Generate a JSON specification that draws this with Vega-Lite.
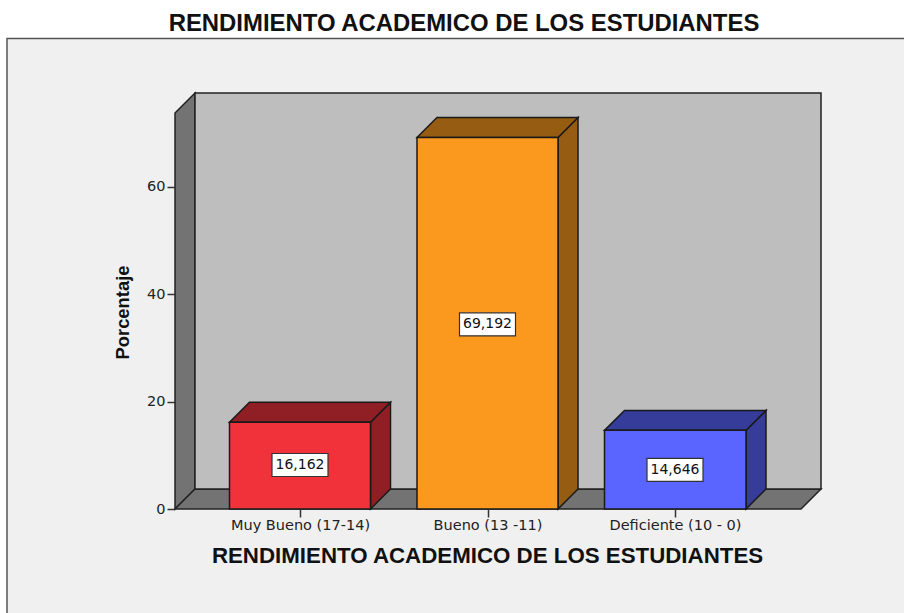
{
"$schema":"https://vega.github.io/schema/vega-lite/v6.json",
"width":646,"height":416,
"autosize":"none",
"padding":{"left":175,"top":93,"right":83,"bottom":104},
"background":"#ffffff",
"title":{"text":"RENDIMIENTO ACADEMICO DE LOS ESTUDIANTES","font":"Liberation Sans","fontSize":23.9,"fontWeight":"bold","color":"#111111","anchor":"middle","dx":-34,"offset":-10,"baseline":"middle"},
"config":{"view":{"stroke":null},"axis":{"grid":false,"domain":false,"labelFont":"DejaVu Sans","titleFont":"Liberation Sans","labelFontSize":14.5,"labelColor":"#222222","tickColor":"#333333","tickWidth":1.5,"tickSize":8}},
"datasets":{
"panel":[{"x0":-168,"x1":800,"y0":-30,"y1":87.6}],
"wall":[{"x0":20,"x1":646,"y0":3.72,"y1":77.47}],
"faces":[
{"face":"leftwall","x":0,"top":73.75,"bottom":0,"part":"wall"},
{"face":"leftwall","x":20,"top":77.47,"bottom":3.72,"part":"wall"},
{"face":"floor","x":0,"top":0,"bottom":0,"part":"wall"},
{"face":"floor","x":20,"top":3.72,"bottom":0,"part":"wall"},
{"face":"floor","x":626,"top":3.72,"bottom":0,"part":"wall"},
{"face":"floor","x":646,"top":3.72,"bottom":3.72,"part":"wall"}
],
"depth":[
{"face":"s1","x":195.5,"top":16.162,"bottom":0,"part":"red"},
{"face":"s1","x":215.5,"top":19.882,"bottom":3.72,"part":"red"},
{"face":"t1","x":54.5,"top":16.162,"bottom":16.162,"part":"red"},
{"face":"t1","x":74.5,"top":19.882,"bottom":16.162,"part":"red"},
{"face":"t1","x":195.5,"top":19.882,"bottom":16.162,"part":"red"},
{"face":"t1","x":215.5,"top":19.882,"bottom":19.882,"part":"red"},
{"face":"s2","x":383,"top":69.192,"bottom":0,"part":"orange"},
{"face":"s2","x":403,"top":72.912,"bottom":3.72,"part":"orange"},
{"face":"t2","x":242,"top":69.192,"bottom":69.192,"part":"orange"},
{"face":"t2","x":262,"top":72.912,"bottom":69.192,"part":"orange"},
{"face":"t2","x":383,"top":72.912,"bottom":69.192,"part":"orange"},
{"face":"t2","x":403,"top":72.912,"bottom":72.912,"part":"orange"},
{"face":"s3","x":571,"top":14.646,"bottom":0,"part":"blue"},
{"face":"s3","x":591,"top":18.366,"bottom":3.72,"part":"blue"},
{"face":"t3","x":429.5,"top":14.646,"bottom":14.646,"part":"blue"},
{"face":"t3","x":449.5,"top":18.366,"bottom":14.646,"part":"blue"},
{"face":"t3","x":571,"top":18.366,"bottom":14.646,"part":"blue"},
{"face":"t3","x":591,"top":18.366,"bottom":18.366,"part":"blue"}
],
"bars":[
{"categoria":"Muy Bueno (17-14)","porcentaje":16.162,"etiqueta":"16,162","x0":54.5,"x1":195.5,"cx":125,"mid":8.19,"part":"red"},
{"categoria":"Bueno (13 -11)","porcentaje":69.192,"etiqueta":"69,192","x0":242,"x1":383,"cx":312.5,"mid":34.4,"part":"orange"},
{"categoria":"Deficiente (10 - 0)","porcentaje":14.646,"etiqueta":"14,646","x0":429.5,"x1":571,"cx":500,"mid":7.3,"part":"blue"}
]
},
"layer":[
{"data":{"name":"panel"},"mark":{"type":"rect","fill":"#f0f0f0","stroke":"#555555","strokeWidth":1.5},
"encoding":{
"x":{"field":"x0","type":"quantitative","scale":{"domain":[0,646],"nice":false,"zero":false},
"axis":{"zindex":1,"values":[125,312.5,500],"labelExpr":"datum.value==125?'Muy Bueno (17-14)':datum.value==312.5?'Bueno (13 -11)':'Deficiente (10 - 0)'","title":"RENDIMIENTO ACADEMICO DE LOS ESTUDIANTES","titleFontSize":22.3,"titleFontWeight":"bold","titleColor":"#111111","titleX":312,"titleY":46,"titleBaseline":"middle","labelPadding":1}},
"x2":{"field":"x1"},
"y":{"field":"y0","type":"quantitative","scale":{"domain":[0,77.47],"nice":false,"zero":false},
"axis":{"zindex":1,"values":[0,20,40,60],"title":"Porcentaje","titleFontSize":18.4,"titleFontWeight":"bold","titleColor":"#111111","titleX":-53,"titleY":219,"titleBaseline":"middle","labelPadding":2}},
"y2":{"field":"y1"}}},
{"data":{"name":"faces"},"mark":{"type":"area","fill":"#737373","stroke":"#222222","strokeWidth":1.5},
"encoding":{"detail":{"field":"face"},
"x":{"field":"x","type":"quantitative"},
"y":{"field":"top","type":"quantitative","stack":null},
"y2":{"field":"bottom"}}},
{"data":{"name":"wall"},"mark":{"type":"rect","fill":"#bebebe","stroke":"#222222","strokeWidth":1.5},
"encoding":{"x":{"field":"x0","type":"quantitative"},"x2":{"field":"x1"},"y":{"field":"y0","type":"quantitative"},"y2":{"field":"y1"}}},
{"data":{"name":"depth"},"mark":{"type":"area","stroke":"#1a1a1a","strokeWidth":1.5},
"encoding":{"detail":{"field":"face"},
"x":{"field":"x","type":"quantitative"},
"y":{"field":"top","type":"quantitative","stack":null},
"y2":{"field":"bottom"},
"color":{"field":"part","type":"nominal","legend":null,"scale":{"domain":["red","orange","blue"],"range":["#8f1f24","#965c12","#363c99"]}}}},
{"data":{"name":"bars"},"mark":{"type":"rect","stroke":"#1a1a1a","strokeWidth":1.5},
"encoding":{"x":{"field":"x0","type":"quantitative"},"x2":{"field":"x1"},
"y":{"field":"porcentaje","type":"quantitative"},"y2":{"datum":0},
"fill":{"field":"part","type":"nominal","legend":null,"scale":{"domain":["red","orange","blue"],"range":["#f2323a","#fa991e","#5a64ff"]}}}},
{"data":{"name":"bars"},"mark":{"type":"rect","width":56,"height":23,"fill":"#ffffff","stroke":"#333333","strokeWidth":1.2},
"encoding":{"x":{"field":"cx","type":"quantitative"},"y":{"field":"mid","type":"quantitative"}}},
{"data":{"name":"bars"},"mark":{"type":"text","font":"DejaVu Sans","fontSize":14,"color":"#111111","align":"center","baseline":"middle"},
"encoding":{"x":{"field":"cx","type":"quantitative"},"y":{"field":"mid","type":"quantitative"},"text":{"field":"etiqueta"}}}
],
"resolve":{"scale":{"fill":"independent","color":"independent"}}
}
